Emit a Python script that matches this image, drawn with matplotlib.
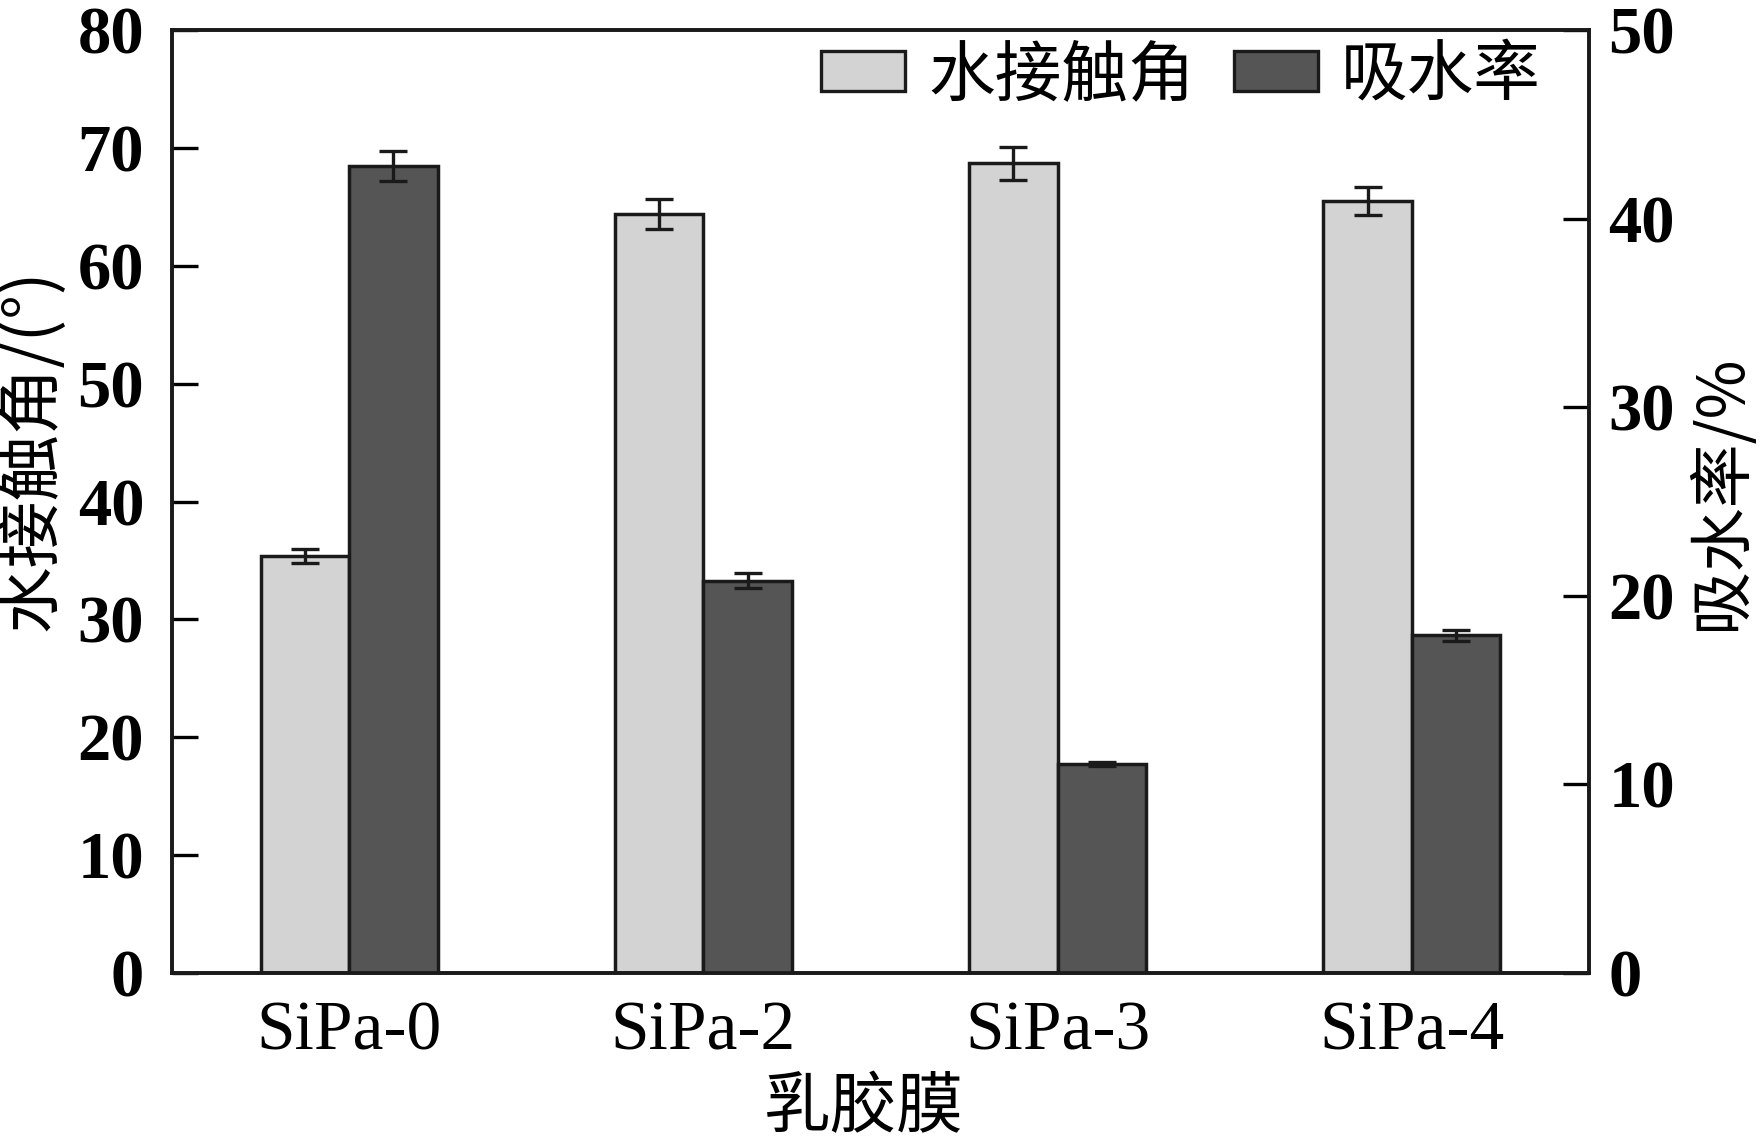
import numpy as np
import matplotlib
matplotlib.use('Agg')
import matplotlib.pyplot as plt
from matplotlib.patches import Patch

plt.rcParams['font.family'] = ['Liberation Serif', 'Noto Sans CJK SC']

# Data
samples = ['SiPa-0', 'SiPa-2', 'SiPa-3', 'SiPa-4']
contact_angle = [35.4, 64.4, 68.7, 65.5]      # 水接触角 (°), left axis
contact_err = [0.6, 1.3, 1.4, 1.2]
absorption = [42.8, 20.8, 11.1, 17.9]          # 吸水率 (%), right axis
absorption_err = [0.8, 0.4, 0.1, 0.3]

light = '#d3d3d3'
dark = '#555555'
edge = '#1a1a1a'
cjk = ['Noto Sans CJK SC', 'DejaVu Sans']

fig = plt.figure(figsize=(17.6, 11.39), dpi=100)
ax1 = fig.add_axes([0.0977, 0.1457, 0.8051, 0.828])
ax2 = ax1.twinx()

x = np.arange(len(samples))
w = 0.25

ax1.bar(x - w / 2, contact_angle, w, color=light, edgecolor=edge, linewidth=2.5, zorder=2)
ax1.errorbar(x - w / 2, contact_angle, yerr=contact_err, fmt='none', ecolor=edge,
             elinewidth=2.4, capsize=10, capthick=2.4, zorder=3)
ax2.bar(x + w / 2, absorption, w, color=dark, edgecolor=edge, linewidth=2.5, zorder=2)
ax2.errorbar(x + w / 2, absorption, yerr=absorption_err, fmt='none', ecolor=edge,
             elinewidth=2.4, capsize=10, capthick=2.4, zorder=3)

ax1.set_xlim(-0.5, 3.5)
ax1.set_ylim(0, 80)
ax2.set_ylim(0, 50)
ax1.set_yticks(np.arange(0, 81, 10))
ax2.set_yticks(np.arange(0, 51, 10))
ax1.set_xticks(x)
ax1.set_xticklabels(samples, fontsize=50)

for lab in ax1.get_yticklabels() + ax2.get_yticklabels():
    lab.set_fontsize(48)
    lab.set_fontweight('bold')

ax1.tick_params(axis='y', direction='in', length=19, width=2.4, pad=20)
ax2.tick_params(axis='y', direction='in', length=19, width=2.4, pad=14)
ax1.tick_params(axis='x', length=0, pad=20)

for ax in (ax1, ax2):
    for s in ax.spines.values():
        s.set_linewidth(2.6)
        s.set_color(edge)

ax1.set_ylabel('水接触角/(°)', fontsize=48, family=cjk)
ax1.yaxis.set_label_coords(-0.075, 0.555)
ax2.set_ylabel('吸水率/%', fontsize=46, family=cjk)
ax2.yaxis.set_label_coords(1.07, 0.51)
ax1.set_xlabel('乳胶膜', fontsize=48, family=cjk)
ax1.xaxis.set_label_coords(0.488, -0.108)

handles = [Patch(facecolor=light, edgecolor=edge, linewidth=2.4),
           Patch(facecolor=dark, edgecolor=edge, linewidth=2.4)]
leg = ax2.legend(handles, ['水接触角', '吸水率'], loc='upper right', ncol=2, frameon=False,
                 prop={'family': cjk, 'size': 48}, handlelength=1.26, handleheight=0.55,
                 handletextpad=0.34, columnspacing=0.6, borderaxespad=0.0,
                 bbox_to_anchor=(0.985, 1.015))

fig.savefig('out.png', dpi=100)
